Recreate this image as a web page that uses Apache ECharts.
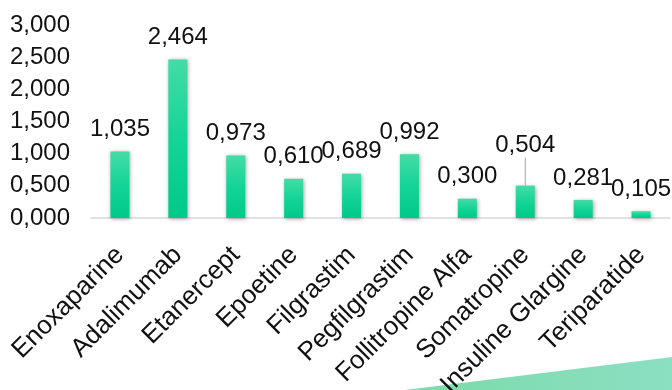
<!DOCTYPE html>
<html>
<head>
<meta charset="utf-8">
<script src="https://cdn.jsdelivr.net/npm/echarts@6/dist/echarts.min.js"></script>
<style>
  html, body { margin: 0; padding: 0; background: #ffffff; }
  #chart { width: 672px; height: 390px; }
</style>
</head>
<body>
<div id="chart"></div>
<script>
// Products and their values
const categories = [
  'Enoxaparine', 'Adalimumab', 'Etanercept', 'Epoetine', 'Filgrastim',
  'Pegfilgrastim', 'Follitropine Alfa', 'Somatropine', 'Insuline Glargine', 'Teriparatide'
];
const values = [1.035, 2.464, 0.973, 0.610, 0.689, 0.992, 0.300, 0.504, 0.281, 0.105];

// Y axis range
const yMin = 0;
const yMax = 3;
const yStep = 0.5;

// Index of the label that is lifted above its bar with a leader line
const liftedLabel = 7;

const fmt = v => v.toFixed(3).replace('.', ',');
const FONT = '"Liberation Sans", Arial, sans-serif';

const chart = echarts.init(document.getElementById('chart'));

chart.setOption({
  animation: false,
  backgroundColor: '#ffffff',
  grid: { left: 91, right: 2, top: 25, bottom: 172, containLabel: false, outerBoundsMode: 'none' },
  xAxis: {
    type: 'category',
    data: categories,
    axisLine: { show: true, lineStyle: { color: '#d9d9d9', width: 1.5 } },
    axisTick: { show: false },
    axisLabel: {
      interval: 0,
      rotate: 45,
      margin: 33,
      color: '#111111',
      fontFamily: FONT,
      fontSize: 26
    }
  },
  yAxis: {
    type: 'value',
    min: yMin,
    max: yMax,
    interval: yStep,
    axisLine: { show: false },
    axisTick: { show: false },
    splitLine: { show: false },
    axisLabel: {
      margin: 21,
      color: '#111111',
      fontFamily: FONT,
      fontSize: 24,
      formatter: v => fmt(v)
    }
  },
  series: [{
    type: 'bar',
    barWidth: 19,
    data: values.map((v, i) => i === liftedLabel
      ? { value: v, labelLine: { show: true } }
      : v),
    itemStyle: {
      color: new echarts.graphic.LinearGradient(0, 0, 0, 1, [
        { offset: 0, color: '#44dca6' },
        { offset: 0.5, color: '#14d497' },
        { offset: 1, color: '#00c98a' }
      ]),
      shadowColor: 'rgba(0,0,0,0.35)',
      shadowBlur: 4,
      shadowOffsetX: 1,
      shadowOffsetY: 1
    },
    label: {
      show: true,
      position: 'top',
      distance: 10,
      color: '#111111',
      fontFamily: FONT,
      fontSize: 24,
      formatter: p => fmt(p.value)
    },
    labelLine: {
      show: false,
      lineStyle: { color: '#a6a6a6', width: 1 }
    },
    labelLayout: p => p.dataIndex === liftedLabel ? { dy: -18 } : {}
  }],
  graphic: [{
    type: 'polygon',
    silent: true,
    z: -1,
    shape: { points: [[405, 390], [672, 357], [672, 390]] },
    style: {
      fill: new echarts.graphic.LinearGradient(0, 0, 1, 0, [
        { offset: 0, color: '#7bdaa8' },
        { offset: 1, color: '#8ae0c2' }
      ])
    }
  }]
});
</script>
</body>
</html>
